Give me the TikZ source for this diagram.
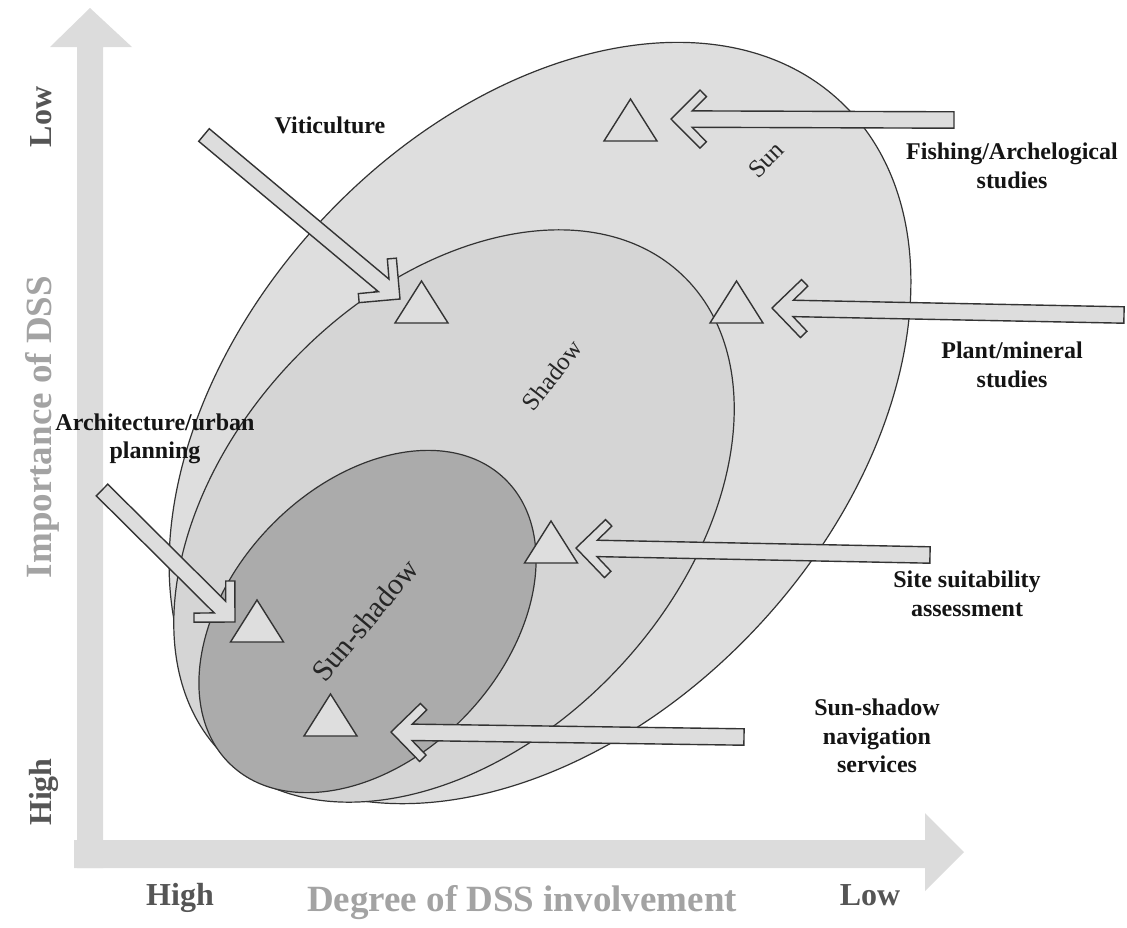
\documentclass[tikz,border=0pt]{standalone}
\usepackage{fontspec}
\setmainfont{Liberation Serif}
\usetikzlibrary{calc}

\definecolor{sunfill}{HTML}{DEDEDE}
\definecolor{shadowfill}{HTML}{D5D5D5}
\definecolor{sunshadowfill}{HTML}{ABABAB}
\definecolor{arrowfill}{HTML}{DDDDDD}
\definecolor{trifill}{HTML}{DEDEDE}
\definecolor{axisfill}{HTML}{DCDCDC}
\definecolor{axisdark}{HTML}{555555}
\definecolor{axislight}{HTML}{A3A3A3}
\definecolor{edge}{HTML}{333333}

% Block arrow with a chevron head, drawn from a tail coordinate (#1) to a tip coordinate (#2)
\newcommand\blockarrow[2]{%
  \path let \p1=($(#1)-(#2)$), \n1={atan2(\y1,\x1)}, \n2={veclen(\x1,\y1)} in
    \pgfextra{\xdef\baAngle{\n1}\xdef\baLen{\n2}};
  \begin{scope}[shift={(#2)}, rotate=\baAngle]
    \draw[blockarrow] (0,0) -- (29,29) -- (35.4,22.6) -- (21.2,8.2) -- (\baLen,8.2)
      -- (\baLen,-8.2) -- (21.2,-8.2) -- (35.4,-22.6) -- (29,-29) -- cycle;
  \end{scope}}

\begin{document}
\begin{tikzpicture}[x=1pt,y=-1pt,
  zone/.style={draw=edge, line width=1.2pt},
  blockarrow/.style={draw=edge, fill=arrowfill, line width=1.4pt, line join=miter},
  tristy/.style={draw=edge, fill=trifill, line width=1.4pt, line join=miter},
  tri/.pic={\draw[tristy] (-26.5,21) -- (0,-21) -- (26.5,21) -- cycle;},
  lbl/.style={font=\fontsize{24}{28.5}\selectfont\bfseries, align=center, text=black!92, inner sep=0pt},
  region/.style={font=\fontsize{25}{30}\selectfont, text=black!85, inner sep=0pt},
  axlbl/.style={font=\fontsize{32}{36}\selectfont\bfseries, text=axisdark, inner sep=0pt},
  axtitle/.style={font=\fontsize{37}{44}\selectfont\bfseries, text=axislight, inner sep=0pt}]

\useasboundingbox (0,0) rectangle (1127,927);

% axes
\fill[axisfill] (77,868) -- (77,47) -- (50,47) -- (90,8) -- (132,47) -- (103,47) -- (103,868) -- cycle;
\fill[axisfill] (74,840) -- (925,840) -- (925,813) -- (964,852) -- (925,891) -- (925,868) -- (74,868) -- cycle;

% nested zones
\draw[zone, fill=sunfill, rotate around={47:(540,423)}] (540,423) ellipse [x radius=440, y radius=298];
\draw[zone, fill=shadowfill, rotate around={46.6:(454,516)}] (454,516) ellipse [x radius=332, y radius=224];
\draw[zone, fill=sunshadowfill, rotate around={46.2:(367.5,621.5)}] (367.5,621.5) ellipse [x radius=198, y radius=136];

% zone names
\node[region, rotate=45] (sunname) at (766,160) {Sun};
\node[region, rotate=52] (shadowname) at (552,375) {Shadow};
\node[region, rotate=50, font=\fontsize{30}{36}\selectfont] (sunshadowname) at (365,620) {Sun-shadow};

% application markers
\pic at (630.5,120) {tri};
\pic at (421.5,302) {tri};
\pic at (736.5,302) {tri};
\pic at (551,542) {tri};
\pic at (257,621) {tri};
\pic at (330.5,715) {tri};

% arrow ends
\coordinate (fishTail) at (954,120);   \coordinate (fishTip) at (671,119);
\coordinate (plantTail) at (1124,315); \coordinate (plantTip) at (772,308);
\coordinate (siteTail) at (930,555);   \coordinate (siteTip) at (576,548);
\coordinate (navTail) at (744,737);    \coordinate (navTip) at (391,732);
\coordinate (vitiTail) at (204,135);   \coordinate (vitiTip) at (400,299);
\coordinate (archTail) at (102,490);   \coordinate (archTip) at (235,622);

\blockarrow{fishTail}{fishTip}
\blockarrow{plantTail}{plantTip}
\blockarrow{siteTail}{siteTip}
\blockarrow{navTail}{navTip}
\blockarrow{vitiTail}{vitiTip}
\blockarrow{archTail}{archTip}

% application labels
\node[lbl] (viti) at (330,125) {Viticulture};
\node[lbl] (fish) at (1012,166) {Fishing/Archelogical\\studies};
\node[lbl] (plant) at (1012,365) {Plant/mineral\\studies};
\node[lbl] (site) at (967,594) {Site suitability\\assessment};
\node[lbl] (nav) at (877,736) {Sun-shadow\\navigation\\services};
\node[lbl] (arch) at (155,439) {Architecture/urban\\planning};

% axis labels
\node[axlbl, rotate=90] (ylow) at (41,117) {Low};
\node[axtitle, rotate=90] (ytitle) at (42,427) {Importance of DSS};
\node[axlbl, rotate=90] (yhigh) at (44,792) {High};
\node[axlbl] (xhigh) at (180,898) {High};
\node[axtitle] (xtitle) at (522,903) {Degree of DSS involvement};
\node[axlbl] (xlow) at (870,895) {Low};

\end{tikzpicture}
\end{document}
